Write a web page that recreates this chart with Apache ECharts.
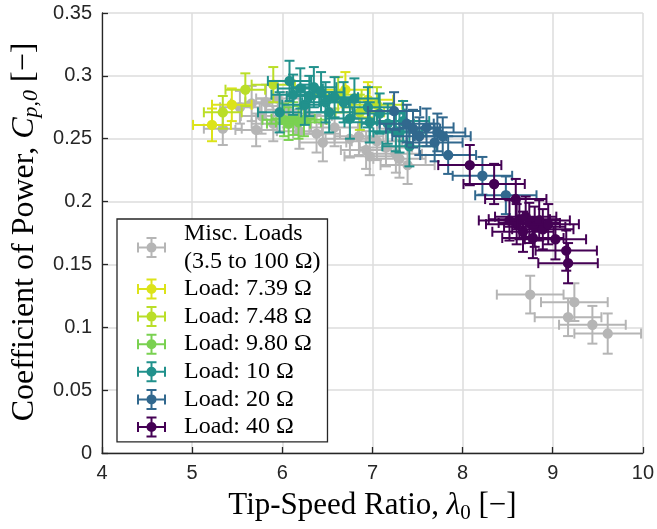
<!DOCTYPE html>
<html><head><meta charset="utf-8">
<script src="https://cdn.jsdelivr.net/npm/echarts@6/dist/echarts.min.js"></script>
<style>html,body{margin:0;padding:0;background:#fff}#c{width:657px;height:529px}</style>
</head><body><div id="c"></div>
<script>
// ---- data: [tip-speed ratio, Cp, x error, y error] ----
const seriesNames = [
  'Misc. Loads\n(3.5 to 100 Ω)',
  'Load: 7.39 Ω',
  'Load: 7.48 Ω',
  'Load: 9.80 Ω',
  'Load: 10 Ω',
  'Load: 20 Ω',
  'Load: 40 Ω'
];
const seriesColors = ['#b5b5b5', '#dce319', '#bade28', '#7ad151', '#21918c', '#31688e', '#440154'];

const miscLoads = [
  [5.34,0.258,0.21,0.013],[5.53,0.275,0.22,0.013],[5.66,0.278,0.23,0.014],[5.71,0.257,0.23,0.013],
  [5.77,0.268,0.23,0.014],[5.82,0.279,0.23,0.014],[5.95,0.282,0.24,0.014],[5.90,0.262,0.24,0.014],
  [6.05,0.273,0.24,0.014],[6.19,0.256,0.25,0.014],[6.30,0.268,0.25,0.014],[6.38,0.254,0.26,0.015],
  [6.45,0.247,0.26,0.015],[6.58,0.259,0.26,0.015],[6.75,0.250,0.27,0.015],[6.85,0.252,0.27,0.015],
  [6.93,0.241,0.28,0.015],[6.97,0.236,0.28,0.015],[7.05,0.248,0.28,0.015],[7.15,0.243,0.29,0.015],
  [7.26,0.238,0.29,0.015],[7.30,0.234,0.29,0.015],[7.39,0.229,0.30,0.015],
  [8.75,0.126,0.37,0.015],[9.24,0.120,0.37,0.015],[9.17,0.108,0.37,0.015],[9.44,0.102,0.37,0.015],
  [9.61,0.095,0.37,0.016]
];
const load739 = [
  [5.22,0.261,0.21,0.013],[5.44,0.277,0.22,0.013],[6.70,0.289,0.27,0.014],[6.95,0.281,0.28,0.014]
];
const load748 = [
  [5.34,0.271,0.21,0.013],[5.59,0.289,0.22,0.013],[5.90,0.293,0.24,0.014],
  [6.62,0.285,0.26,0.014],[6.86,0.271,0.27,0.014],[7.05,0.277,0.28,0.014]
];
const load980 = [
  [6.02,0.265,0.24,0.013],[6.07,0.262,0.24,0.013],[6.12,0.266,0.24,0.013],
  [6.18,0.263,0.25,0.013],[6.24,0.265,0.25,0.013]
];
const load10 = [
  [5.97,0.271,0.24,0.016],[6.08,0.296,0.24,0.016],[6.12,0.285,0.24,0.016],[6.20,0.290,0.25,0.016],
  [6.25,0.277,0.25,0.016],[6.30,0.284,0.25,0.016],[6.35,0.291,0.25,0.016],[6.43,0.287,0.26,0.016],
  [6.48,0.279,0.26,0.016],[6.52,0.271,0.26,0.016],[6.58,0.283,0.26,0.016],[6.68,0.279,0.27,0.016],
  [6.75,0.266,0.27,0.016],[6.80,0.282,0.27,0.016],[6.95,0.275,0.28,0.016],[6.97,0.263,0.28,0.016],
  [7.08,0.270,0.28,0.016],[7.17,0.262,0.29,0.016],[7.26,0.256,0.29,0.016],[7.30,0.255,0.29,0.016],
  [7.34,0.264,0.29,0.016],[7.41,0.244,0.30,0.016]
];
const load20 = [
  [7.24,0.272,0.29,0.015],[7.38,0.262,0.30,0.015],[7.45,0.258,0.30,0.015],[7.52,0.252,0.30,0.015],
  [7.60,0.259,0.30,0.015],[7.69,0.247,0.31,0.015],[7.72,0.255,0.31,0.015],[7.78,0.252,0.31,0.015],
  [7.84,0.237,0.31,0.015],[8.22,0.2205,0.33,0.015],[8.48,0.205,0.34,0.015]
];
const load40 = [
  [8.08,0.229,0.35,0.016],[8.35,0.214,0.34,0.016],[8.59,0.202,0.34,0.016],[8.52,0.185,0.34,0.016],
  [8.60,0.182,0.34,0.016],[8.63,0.186,0.34,0.016],[8.67,0.176,0.34,0.016],[8.70,0.188,0.34,0.016],
  [8.74,0.183,0.34,0.016],[8.78,0.171,0.34,0.016],[8.80,0.180,0.34,0.016],[8.85,0.185,0.34,0.016],
  [8.89,0.178,0.34,0.016],[8.95,0.182,0.34,0.016],[9.03,0.170,0.34,0.016],[9.15,0.161,0.34,0.016],
  [9.17,0.151,0.33,0.016]
];
const seriesData = [miscLoads, load739, load748, load980, load10, load20, load40];

const xMin = 4, xMax = 10, xStep = 1;
const yMin = 0, yMax = 0.35, yStep = 0.05;

// ---- rendering ----
const chart = echarts.init(document.getElementById('c'), null, {renderer: 'canvas'});
const serif = 'Liberation Serif';
const sans = 'Liberation Sans';
const ink = '#262626';

const legendIcon = 'path://M0 9.5H29V11.5H0Z M0 5.5H2V15.5H0Z M27 5.5H29V15.5H27Z M13.5 0H15.5V21H13.5Z M9.5 0H19.5V2H9.5Z M9.5 19H19.5V21H9.5Z M9.5 10.5A5 5 0 1 1 19.5 10.5A5 5 0 1 1 9.5 10.5Z';

function renderErr(params, api) {
  const x = api.value(0), y = api.value(1), ex = api.value(2), ey = api.value(3);
  const c = api.coord([x, y]);
  const l = api.coord([x - ex, y]), r = api.coord([x + ex, y]);
  const t = api.coord([x, y + ey]), b = api.coord([x, y - ey]);
  const color = api.visual('color');
  const cap = 5;
  const st = {stroke: color, lineWidth: 2, fill: null};
  return {
    type: 'group',
    children: [
      {type: 'line', shape: {x1: l[0], y1: c[1], x2: r[0], y2: c[1]}, style: st},
      {type: 'line', shape: {x1: c[0], y1: t[1], x2: c[0], y2: b[1]}, style: st},
      {type: 'line', shape: {x1: l[0], y1: c[1] - cap, x2: l[0], y2: c[1] + cap}, style: st},
      {type: 'line', shape: {x1: r[0], y1: c[1] - cap, x2: r[0], y2: c[1] + cap}, style: st},
      {type: 'line', shape: {x1: c[0] - cap, y1: t[1], x2: c[0] + cap, y2: t[1]}, style: st},
      {type: 'line', shape: {x1: c[0] - cap, y1: b[1], x2: c[0] + cap, y2: b[1]}, style: st},
      {type: 'circle', shape: {cx: c[0], cy: c[1], r: 5.2}, style: {fill: color, stroke: null}}
    ]
  };
}

const option = {
  animation: false,
  backgroundColor: '#fff',
  color: seriesColors,
  grid: {left: 102, right: 14, top: 13, bottom: 72, containLabel: false},
  xAxis: {
    type: 'value', min: xMin, max: xMax, interval: xStep,
    axisLine: {show: true, onZero: false, lineStyle: {color: ink, width: 1.3}},
    axisTick: {show: true, inside: true, length: 6, lineStyle: {color: ink, width: 1.3}},
    axisLabel: {color: ink, fontFamily: sans, fontSize: 20, margin: 10},
    splitLine: {show: true, lineStyle: {color: '#dcdcdc', width: 1.5}},
    name: '{n|Tip-Speed Ratio, }{i|λ}{s|0}{n| [−]}',
    nameLocation: 'middle', nameGap: 35,
    nameTextStyle: {
      rich: {
        n: {fontFamily: serif, fontSize: 31, color: '#000', lineHeight: 36},
        i: {fontFamily: serif, fontSize: 31, fontStyle: 'italic', color: '#000', lineHeight: 36},
        s: {fontFamily: serif, fontSize: 21, color: '#000', lineHeight: 23, verticalAlign: 'bottom'}
      }
    }
  },
  yAxis: {
    type: 'value', min: yMin, max: yMax, interval: yStep,
    axisLine: {show: true, onZero: false, lineStyle: {color: ink, width: 1.3}},
    axisTick: {show: true, inside: true, length: 6, lineStyle: {color: ink, width: 1.3}},
    axisLabel: {color: ink, fontFamily: sans, fontSize: 20, margin: 10},
    splitLine: {show: true, lineStyle: {color: '#dcdcdc', width: 1.5}},
    name: '{n|Coefficient of Power, }{i|C}{s|p,0}{n| [−]}',
    nameLocation: 'middle', nameGap: 57, nameRotate: 90,
    nameTextStyle: {
      padding: [0, 0, 0, 2],
      rich: {
        n: {fontFamily: serif, fontSize: 32, color: '#000', lineHeight: 36},
        i: {fontFamily: serif, fontSize: 32, fontStyle: 'italic', color: '#000', lineHeight: 36},
        s: {fontFamily: serif, fontSize: 22, fontStyle: 'italic', color: '#000', lineHeight: 23, verticalAlign: 'bottom'}
      }
    }
  },
  legend: {
    orient: 'vertical', left: 117, top: 219,
    padding: [1, 7, 1, 20], itemGap: 0, itemWidth: 29, itemHeight: 21,
    backgroundColor: '#fff', borderColor: ink, borderWidth: 1.3, borderRadius: 0,
    selectedMode: false,
    textStyle: {fontFamily: serif, fontSize: 24, color: '#000', lineHeight: 27.6, padding: [0, 0, 0, 13]},
    data: seriesNames.map((n, i) => ({name: n, icon: legendIcon, itemStyle: {color: seriesColors[i], borderWidth: 0}}))
  },
  series: seriesData.map((d, i) => ({
    type: 'custom',
    name: seriesNames[i],
    renderItem: renderErr,
    itemStyle: {color: seriesColors[i]},
    encode: {x: 0, y: 1},
    dimensions: ['x', 'y', 'ex', 'ey'],
    data: d,
    clip: false,
    z: 2
  }))
};
chart.setOption(option);
</script>
</body></html>
